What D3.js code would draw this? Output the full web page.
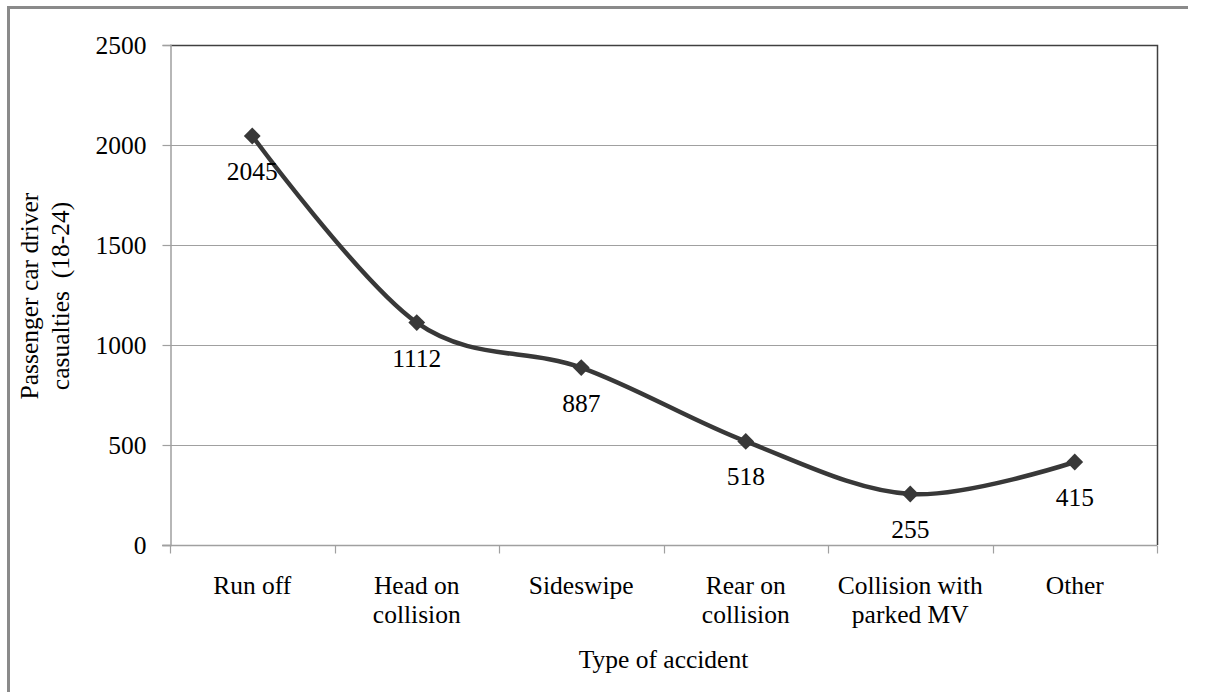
<!DOCTYPE html>
<html>
<head>
<meta charset="utf-8">
<script src="https://cdn.jsdelivr.net/npm/d3@7"></script>
<style>
  html, body { margin: 0; padding: 0; background: #fff; }
  svg { display: block; }
  text { font-family: "Liberation Serif", "Times New Roman", serif; fill: #000; }
</style>
</head>
<body>
<svg id="chart" width="1206" height="692"></svg>
<script>
// Casualties by accident type
const categories = [
  ["Run off"],
  ["Head on", "collision"],
  ["Sideswipe"],
  ["Rear on", "collision"],
  ["Collision with", "parked MV"],
  ["Other"]
];
const casualties = [2045, 1112, 887, 518, 255, 415];
const yTicks = [0, 500, 1000, 1500, 2000, 2500];
const yTitle = ["Passenger car driver", "casualties  (18-24)"];
const xTitle = "Type of accident";

const FS = 25.5;
const svg = d3.select("#chart");
const W = 1206, H = 692;
const plot = { left: 170, right: 1157, top: 45, bottom: 545 };

// outer frame (top and left edges visible)
svg.append("line").attr("x1", 8).attr("x2", 1188).attr("y1", 7.5).attr("y2", 7.5)
  .attr("stroke", "#8a8a8a").attr("stroke-width", 3);
svg.append("line").attr("x1", 8.5).attr("x2", 8.5).attr("y1", 6).attr("y2", H)
  .attr("stroke", "#8a8a8a").attr("stroke-width", 3);

const idx = categories.map((d, i) => i);
const x = d3.scaleBand().domain(idx).range([plot.left, plot.right]).padding(0);
const y = d3.scaleLinear().domain([0, 2500]).range([plot.bottom, plot.top]);

// gridlines
svg.append("g").selectAll("line").data(yTicks.filter(t => t > 0 && t < 2500)).join("line")
  .attr("x1", plot.left).attr("x2", plot.right)
  .attr("y1", d => Math.round(y(d)) + 0.5).attr("y2", d => Math.round(y(d)) + 0.5)
  .attr("stroke", "#a0a0a0").attr("stroke-width", 1);

// plot frame top and right
svg.append("path")
  .attr("d", `M${plot.left},${plot.top + 0.5}H${plot.right + 0.5}V${plot.bottom}`)
  .attr("fill", "none").attr("stroke", "#404040").attr("stroke-width", 1.5);

// y axis
const yAxis = svg.append("g").attr("transform", `translate(${plot.left + 0.5},0)`)
  .call(d3.axisLeft(y).tickValues(yTicks).tickSize(8).tickPadding(16).tickFormat(d3.format("d")));
yAxis.select(".domain").attr("stroke", "#a0a0a0").attr("stroke-width", 1.5);
yAxis.selectAll(".tick line").attr("stroke", "#a0a0a0").attr("stroke-width", 1.2);
yAxis.selectAll(".tick text").attr("font-size", FS).attr("font-family", "Liberation Serif").attr("fill", "#000");

// x axis with ticks at category boundaries
const xAxisG = svg.append("g").attr("transform", `translate(0,${plot.bottom + 0.5})`);
xAxisG.append("line").attr("x1", plot.left - 8).attr("x2", plot.right)
  .attr("stroke", "#a0a0a0").attr("stroke-width", 1.5);
const bounds = idx.map(i => x(i)).concat([x(idx[idx.length - 1]) + x.bandwidth()]);
xAxisG.selectAll("line.tk").data(bounds).join("line").attr("class", "tk")
  .attr("x1", d => Math.round(d) + 0.5).attr("x2", d => Math.round(d) + 0.5)
  .attr("y1", 0).attr("y2", 8).attr("stroke", "#a0a0a0").attr("stroke-width", 1.2);
const catLabels = xAxisG.selectAll("text.cat").data(idx).join("text").attr("class", "cat")
  .attr("text-anchor", "middle").attr("font-size", FS)
  .attr("x", i => x(i) + x.bandwidth() / 2);
catLabels.each(function (i) {
  const t = d3.select(this);
  categories[i].forEach((ln, k) => {
    t.append("tspan").attr("x", x(i) + x.bandwidth() / 2).attr("y", 48 + k * 29).text(ln);
  });
});

// axis titles
svg.append("text").attr("x", (plot.left + plot.right) / 2).attr("y", 668)
  .attr("text-anchor", "middle").attr("font-size", FS).text(xTitle);
const yt = svg.append("text").attr("transform", "translate(0,296) rotate(-90)")
  .attr("text-anchor", "middle").attr("font-size", FS).style("white-space", "pre");
yTitle.forEach((ln, k) => {
  yt.append("tspan").attr("x", 0).attr("y", 38 + k * 31).text(ln);
});

// smoothed line
const pts = casualties.map((v, i) => [x(i) + x.bandwidth() / 2, y(v)]);
svg.append("path").datum(pts)
  .attr("d", d3.line().curve(d3.curveCardinal.tension(0)))
  .attr("fill", "none").attr("stroke", "#383838").attr("stroke-width", 4.5)
  .attr("stroke-linejoin", "round");

// diamond markers
svg.append("g").selectAll("path").data(pts).join("path")
  .attr("transform", d => `translate(${d[0]},${d[1]})`)
  .attr("d", d3.symbol().type(d3.symbolDiamond2).size(180))
  .attr("fill", "#383838");

// value labels below points
svg.append("g").selectAll("text").data(casualties).join("text")
  .attr("x", (v, i) => x(i) + x.bandwidth() / 2)
  .attr("y", v => y(v) + 44)
  .attr("text-anchor", "middle").attr("font-size", FS)
  .text(v => v);
</script>
</body>
</html>
